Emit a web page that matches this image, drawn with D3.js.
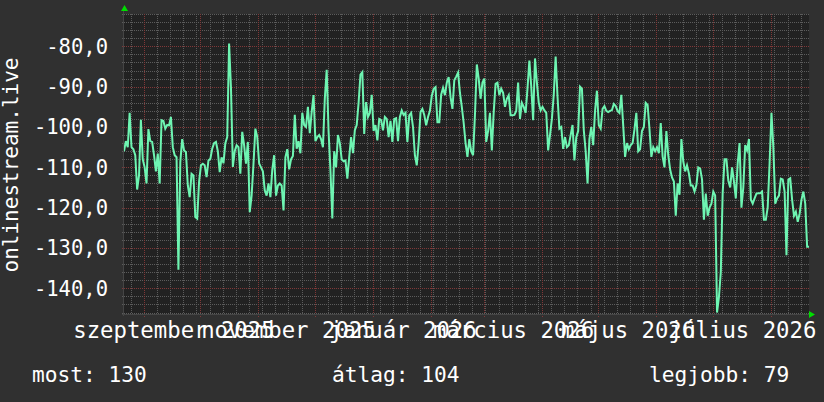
<!DOCTYPE html>
<html><head><meta charset="utf-8">
<script src="https://cdn.jsdelivr.net/npm/d3@7"></script>
<style>
html,body{margin:0;padding:0;background:#303030;}
svg{display:block;}
text{font-family:"DejaVu Sans Mono",monospace;fill:#ffffff;}
</style></head><body>
<svg id="c" width="824" height="402"></svg>
<script>
// ---- data ----
const startTime = "2025-08-21T09:36:00Z";   // window start (one year shown)
const spanDays = 365;
const values = [
-106,-103.5,-105,-96.5,-105,-105.5,-107,-115.5,-112,-98.2,
-108,-110,-114,-100.5,-103.5,-103.7,-107,-111,-106.6,-114,
-98.3,-98.5,-100.4,-99.5,-99.6,-97.5,-105,-107,-107.5,-135.4,
-108.7,-103,-105.8,-106.2,-114.5,-117.4,-111.6,-112,-122.3,-122.7,
-113.6,-109.5,-109.1,-109.5,-112.4,-108.3,-107.9,-105.4,-104,-103.7,
-106,-111.2,-107.5,-109,-104,-102.5,-79.3,-90.3,-109.9,-106,
-104.5,-105,-111.6,-101.2,-104.5,-109.1,-103.7,-121.1,-117,-109.1,
-100.4,-102.5,-109,-110,-111,-115.7,-117,-114,-117.4,-110.7,
-107,-117,-114.5,-114,-114.5,-120.7,-107.5,-105.5,-110.5,-108,
-107.2,-97,-105.4,-103.5,-106.5,-96.5,-99.5,-100,-95,-101.5,
-96.3,-92.1,-103.5,-102.5,-102,-103,-105,-93,-85.8,-101,
-110.7,-122.7,-106,-110,-102,-104,-108,-108.5,-108.3,-112.8,
-107.5,-102.5,-106.5,-100.8,-99.5,-94,-87,-86.4,-101.7,-93.8,
-97.5,-96.5,-92,-101,-99.5,-103.3,-98,-98.3,-100.8,-97.5,
-98,-102.5,-98.5,-103.7,-98,-97.8,-103.5,-97.5,-95.9,-97,
-96.5,-103.7,-97.1,-96.5,-100,-107,-109.5,-104,-96.3,-95.5,
-97,-99.6,-97.5,-96,-92.3,-90.5,-90.1,-98.8,-98.8,-92,
-90.3,-92.1,-89,-87.6,-92.6,-95.5,-88.4,-87.5,-86.5,-91.5,
-95,-99,-104,-107.4,-103,-106,-107,-97.1,-84.5,-88,
-93,-89,-88,-103.7,-101,-96.5,-105.8,-96.3,-89.3,-89,
-92.1,-90.5,-91.5,-95,-93,-92.1,-97.1,-97.1,-97,-96,
-89,-98,-94,-95,-96.5,-90.5,-83.5,-90,-98.3,-83,
-89,-94,-95.9,-95,-95.9,-96.5,-105.8,-102,-98,-92,
-82.5,-92.5,-100.4,-100,-105.4,-102.5,-105,-104.5,-102,-99.5,
-108.3,-102.5,-101,-90,-90.5,-100.8,-106,-114,-103,-100,
-104.5,-96,-91,-99.5,-100.4,-95.5,-94.8,-96,-96.3,-96,
-95.8,-94.3,-94.8,-96,-96.5,-92,-99.6,-107.4,-104,-105.5,
-104.5,-104,-100.6,-96.5,-106,-105.5,-101,-100,-94,-94.5,
-100.5,-107.4,-105,-106,-105,-106.5,-99,-107.3,-110,-101,
-107,-110.5,-112.5,-113.5,-122,-114,-116.8,-103,-108.5,-111,
-109.5,-111.5,-114.5,-114.5,-116,-114.4,-110,-110.3,-113,-123,
-116.5,-122,-120,-119,-116,-117,-146,-142.2,-136,-116.4,
-108,-108,-113.3,-115,-110,-113.5,-117.7,-109,-104,-120,
-115,-104.5,-105.8,-103,-118,-119,-117.7,-116.5,-116.4,-116.4,
-116,-123,-123,-119.9,-109,-96.5,-105,-119,-117.7,-117,
-112.8,-113,-116,-131.8,-113,-112.7,-118,-122,-121,-123.5,
-121.5,-118,-116,-119,-129.7,-129.7
];
const yDomain = [-146.36, -71.98];
const yTicks = [-80, -90, -100, -110, -120, -130, -140];
const xTickDates = ["2025-09-01","2025-11-01","2026-01-01","2026-03-01","2026-05-01","2026-07-01"];
const xTickLabels = ["szeptember 2025","november 2025","január 2026","március 2026","május 2026","július 2026"];
const yTitle = "onlinestream.live";
const legendLabels = ["most:", "átlag:", "legjobb:"];
const legendValues = [130, 104, 79];

// ---- layout ----
const W = 824, H = 402;
const m = {left: 124, right: 809, top: 14, bottom: 314};
const svg = d3.select("#c");
const parse = d3.utcParse("%Y-%m-%d");
const t0 = new Date(startTime), t1 = d3.utcDay.offset(t0, spanDays);

const x = d3.scaleUtc().domain([t0, t1]).range([m.left, m.right]);
const y = d3.scaleLinear().domain(yDomain).range([m.bottom, m.top]);

const data = values.map((v, i) => ({date: d3.utcDay.offset(t0, i), v}));

svg.append("rect").attr("width", W).attr("height", H).attr("fill", "#303030");
svg.append("rect").attr("x", m.left).attr("y", m.top)
  .attr("width", m.right - m.left).attr("height", m.bottom - m.top).attr("fill", "#222222");

// dotted grid drawn as 1px dots (1 on, 1 off)
const minorCol = "#5c5c5c", majorCol = "#803838";
const months = d3.utcMonth.range(t0, t1);
const monthPx = new Set(months.map(d => Math.round(x(d))));
const weeks = d3.utcMonday.range(t0, t1).filter(d => !monthPx.has(Math.round(x(d))));
const yMinor = d3.range(Math.ceil(yDomain[0] / 2) * 2, yDomain[1], 2).filter(d => Math.abs(d % 10) !== 0);
const yMajor = d3.range(Math.ceil(yDomain[0] / 10) * 10, yDomain[1], 10);

function hDots(vals, x0, x1) {
  let s = "";
  vals.forEach(v => {
    const py = Math.round(y(v));
    for (let px = x0; px < x1; px++) if (px % 2 === 0) s += `M${px},${py}h1v1h-1z`;
  });
  return s;
}
function vDots(dates, y0, y1) {
  let s = "";
  dates.forEach(d => {
    const px = Math.round(x(d));
    for (let py = y0; py < y1; py++) if (py % 2 === 0) s += `M${px},${py}h1v1h-1z`;
  });
  return s;
}
const grid = svg.append("g").attr("shape-rendering", "crispEdges");
grid.append("path").attr("d", hDots(yMinor, m.left - 2, m.right)).attr("fill", minorCol);
grid.append("path").attr("d", vDots(weeks, m.top, m.bottom + 2)).attr("fill", minorCol);
grid.append("path").attr("d", hDots(yMajor, m.left - 2, m.right)).attr("fill", majorCol);
grid.append("path").attr("d", vDots(months, m.top, m.bottom + 3)).attr("fill", majorCol);

// axes lines
svg.append("rect").attr("x", m.left - 2).attr("y", m.bottom).attr("width", m.right - m.left + 4).attr("height", 1).attr("fill", "#454545");
svg.append("rect").attr("x", m.left - 1).attr("y", m.top - 3).attr("width", 1).attr("height", m.bottom - m.top + 5).attr("fill", "#454545");
// arrows
svg.append("path").attr("d", `M${m.left - 3},${m.top - 3}L${m.left + 4},${m.top - 3}L${m.left + 0.5},${m.top - 9}Z`).attr("fill", "#00dd00");
svg.append("path").attr("d", `M${m.right},${m.bottom - 3}L${m.right},${m.bottom + 4}L${m.right + 6},${m.bottom + 0.5}Z`).attr("fill", "#00dd00");

// line
svg.append("clipPath").attr("id", "clip").append("rect")
  .attr("x", m.left).attr("y", m.top).attr("width", m.right - m.left + 2).attr("height", m.bottom - m.top);
const line = d3.line().x(d => x(d.date)).y(d => y(d.v));
svg.append("path").datum(data).attr("clip-path", "url(#clip)")
  .attr("d", line).attr("fill", "none").attr("stroke", "#6ef5b2").attr("stroke-width", 2)
  .attr("stroke-linejoin", "miter");

// y tick labels
const fmtY = v => d3.format(".1f")(v).replace(".", ",").replace("\u2212", "-");
svg.append("g").selectAll("text").data(yTicks).join("text")
  .attr("x", 108).attr("y", d => y(d) + 7.3)
  .attr("text-anchor", "end").attr("font-size", 20.5).text(fmtY);

// x tick labels (centered about half a month after tick)
svg.append("g").selectAll("text").data(xTickDates).join("text")
  .attr("x", d => x(d3.utcHour.offset(parse(d), 16 * 24)))
  .attr("y", 338).attr("text-anchor", "middle").attr("font-size", 22.3)
  .text((d, i) => xTickLabels[i]);

// y title
svg.append("text").attr("transform", `translate(18,${(m.top + m.bottom) / 2 + 1}) rotate(-90)`)
  .attr("text-anchor", "middle").attr("font-size", 21).text(yTitle);

// legend
const legendX = [32, 332, 649];
svg.append("g").selectAll("text").data(legendLabels).join("text")
  .attr("x", (d, i) => legendX[i]).attr("y", 382).attr("font-size", 21.2)
  .text((d, i) => d + " " + legendValues[i]);
</script>
</body></html>
